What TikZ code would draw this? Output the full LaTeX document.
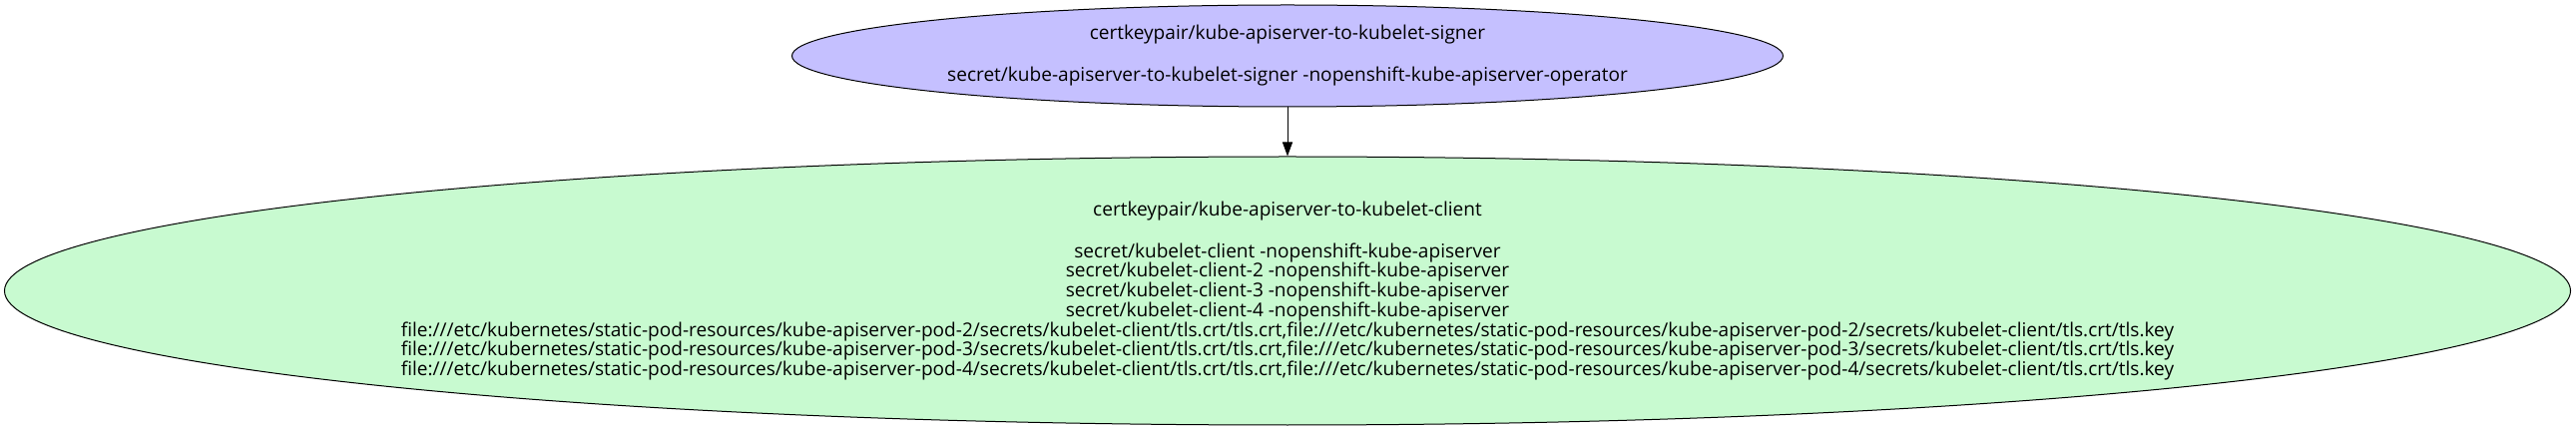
\documentclass[tikz,border=0pt]{standalone}
\usepackage{fontspec}
\setmainfont{Open Sans}
\usepackage{xcolor}
\usepackage{tikz}
\usetikzlibrary{arrows.meta,positioning,shapes.geometric}

\definecolor{signerfill}{RGB}{197,192,255}
\definecolor{clientfill}{RGB}{200,250,208}

\begin{document}
\begin{tikzpicture}[
    x=0.75pt, y=0.75pt,
    cert/.style={ellipse, draw=black, line width=0.75pt, inner sep=0pt, align=center,
                 font=\fontsize{14.3}{14.8}\selectfont, fill=#1},
    cert/.default=signerfill,
    arrow/.style={-{Triangle[length=10.5pt, width=7.5pt]}, line width=0.75pt, draw=black},
]
\useasboundingbox (0,0) rectangle (2581,432);

% Signer
\node[cert=signerfill, minimum width=744.75pt, minimum height=76.5pt] (signer) at (1290,376)
    {certkeypair/kube-apiserver-to-kubelet-signer\\[16.7pt]
     secret/kube-apiserver-to-kubelet-signer -nopenshift-kube-apiserver-operator};

% Client
\node[cert=clientfill, minimum width=1928.25pt, minimum height=201.75pt, below=36.75pt of signer] (client)
    {certkeypair/kube-apiserver-to-kubelet-client\\[16.7pt]
     secret/kubelet-client -nopenshift-kube-apiserver\\
     secret/kubelet-client-2 -nopenshift-kube-apiserver\\
     secret/kubelet-client-3 -nopenshift-kube-apiserver\\
     secret/kubelet-client-4 -nopenshift-kube-apiserver\\
     file:///etc/kubernetes/static-pod-resources/kube-apiserver-pod-2/secrets/kubelet-client/tls.crt/tls.crt,file:///etc/kubernetes/static-pod-resources/kube-apiserver-pod-2/secrets/kubelet-client/tls.crt/tls.key\\
     file:///etc/kubernetes/static-pod-resources/kube-apiserver-pod-3/secrets/kubelet-client/tls.crt/tls.crt,file:///etc/kubernetes/static-pod-resources/kube-apiserver-pod-3/secrets/kubelet-client/tls.crt/tls.key\\
     file:///etc/kubernetes/static-pod-resources/kube-apiserver-pod-4/secrets/kubelet-client/tls.crt/tls.crt,file:///etc/kubernetes/static-pod-resources/kube-apiserver-pod-4/secrets/kubelet-client/tls.crt/tls.key};

% Arrows
\draw[arrow] (signer) -- (client);
\end{tikzpicture}
\end{document}
